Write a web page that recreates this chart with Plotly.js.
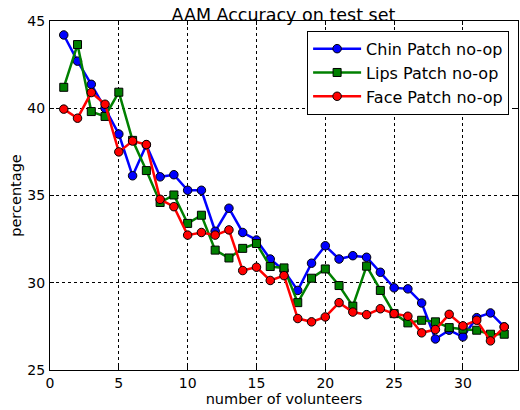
<!DOCTYPE html>
<html>
<head>
<meta charset="utf-8">
<script src="https://cdn.plot.ly/plotly-3.0.1.min.js"></script>
<style>html,body{margin:0;padding:0;background:#fff;}#chart{width:520px;height:410px;}</style>
</head>
<body>
<div id="chart"></div>
<script>
const volunteers = [1,2,3,4,5,6,7,8,9,10,11,12,13,14,15,16,17,18,19,20,21,22,23,24,25,26,27,28,29,30,31,32,33];
const chinPatch = [44.2,42.7,41.37,40.0,38.52,36.13,37.9,36.07,36.19,35.3,35.3,32.95,34.27,32.88,32.45,31.36,30.7,29.56,31.12,32.12,31.36,31.55,31.46,30.6,29.71,29.65,28.84,26.78,27.28,26.9,28.0,28.27,27.47];
const lipsPatch = [41.2,43.65,39.81,39.53,40.92,38.16,36.43,34.6,35.03,33.4,33.87,31.87,31.42,31.97,32.25,30.93,30.85,28.86,30.26,30.79,29.84,28.66,30.95,29.56,28.23,27.7,27.85,27.76,27.43,27.34,27.28,27.05,27.05];
const facePatch = [39.95,39.43,40.9,40.23,37.5,38.12,37.92,34.78,34.36,32.73,32.88,32.73,33.03,30.7,30.89,30.13,30.41,27.95,27.76,28.04,28.86,28.32,28.17,28.51,28.23,28.08,27.13,27.32,28.19,27.53,27.85,26.67,27.47];
const seriesNames = ["Chin Patch no-op","Lips Patch no-op","Face Patch no-op"];

function tr(y, name, color, symbol) {
  return {
    x: volunteers, y: y, name: name, type: 'scatter', mode: 'lines+markers',
    line: {color: color, width: 2.5},
    marker: {color: color, symbol: symbol, size: symbol === 'square' ? 8 : 8.5, line: {color: '#000', width: 1}}
  };
}
const data = [
  tr(chinPatch, seriesNames[0], '#0000ff', 'circle'),
  tr(lipsPatch, seriesNames[1], '#008000', 'square'),
  tr(facePatch, seriesNames[2], '#ff0000', 'circle')
];
const axisCommon = {
  showline: true, mirror: 'ticks', linecolor: '#000', linewidth: 1,
  ticks: 'inside', ticklen: 4, tickcolor: '#000',
  showgrid: true, gridcolor: '#000', griddash: '3px,3px', gridwidth: 1,
  zeroline: false, tickfont: {family: 'DejaVu Sans', size: 14, color: '#000'}
};
const layout = {
  width: 520, height: 410,
  margin: {l: 50, r: 2, t: 21, b: 40},
  paper_bgcolor: '#fff', plot_bgcolor: '#fff',
  title: {text: 'AAM Accuracy on test set', font: {family: 'DejaVu Sans', size: 17.5, color: '#000'}, x: 0.545, xanchor: 'center', yref: 'paper', y: 1, yanchor: 'bottom', pad: {t: 0, b: 0}},
  xaxis: Object.assign({}, axisCommon, {range: [0, 34], tickvals: [0,5,10,15,20,25,30], ticklabelstandoff: 0,
    title: {text: 'number of volunteers', font: {family: 'DejaVu Sans', size: 14.5, color: '#000'}, standoff: 1}}),
  yaxis: Object.assign({}, axisCommon, {range: [25, 45], tickvals: [25,30,35,40,45], ticklabelstandoff: 1,
    title: {text: 'percentage', font: {family: 'DejaVu Sans', size: 14.5, color: '#000'}, standoff: 2}}),
  legend: {x: 0.981, xanchor: 'right', y: 0.972, yanchor: 'top', bgcolor: '#fff', bordercolor: '#000', borderwidth: 1,
    font: {family: 'DejaVu Sans', size: 16, color: '#000'}, itemwidth: 48, tracegroupgap: 0},
  showlegend: true
};
Plotly.newPlot('chart', data, layout, {displayModeBar: false, staticPlot: true});
</script>
</body>
</html>
